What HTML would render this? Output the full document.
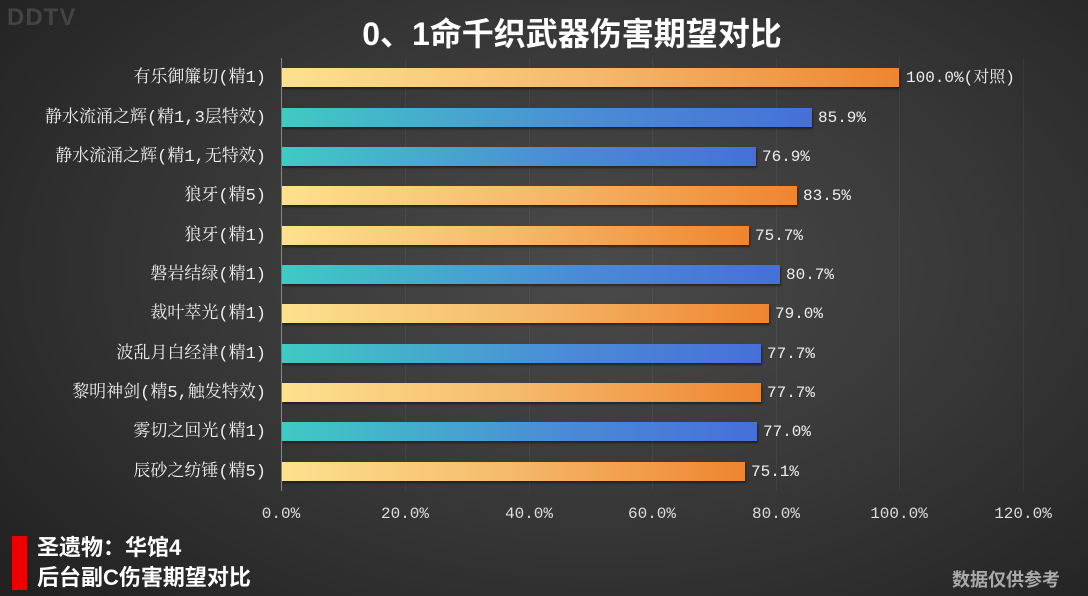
<!DOCTYPE html>
<html><head><meta charset="utf-8"><style>
body{margin:0;width:1088px;height:596px;overflow:hidden;background:radial-gradient(ellipse 70% 80% at 55% 45%,#4a4a4a 0%,#383838 50%,#222 100%);position:relative;font-family:"Liberation Mono","Noto Serif CJK SC",serif;color:#fff}
.a{position:absolute}
.lab{position:absolute;right:822px;font-size:17px;color:#eee;white-space:nowrap;line-height:20px;margin-top:2px}
.bar{position:absolute;left:282px;height:19px;box-shadow:1px 2px 2px rgba(0,0,0,.45)}
.o{background:linear-gradient(90deg,#fde18e,#f5b96b 50%,#ee8530)}
.b{background:linear-gradient(90deg,#3fcac4,#4b8ad6 60%,#4670d8)}
.val{position:absolute;font-size:16px;color:#eee;line-height:20px;white-space:nowrap;margin-top:1px}
.grid{position:absolute;top:58px;height:433px;width:1px;background:rgba(255,255,255,.05)}
.tick{position:absolute;top:505px;font-size:16px;color:#ddd;width:100px;margin-left:-50px;text-align:center}
.sans{font-family:"Liberation Sans","Noto Sans CJK SC",sans-serif;font-weight:bold}
</style></head><body>
<div class="a sans" style="left:7px;top:4px;font-size:24px;color:#444;letter-spacing:1px">DDTV</div>
<div class="a sans" style="left:0;width:1088px;top:9px;text-align:center;font-size:32px;color:#fff;padding-left:56px;box-sizing:border-box">0、1命千织武器伤害期望对比</div>
<div class="grid" style="left:405px"></div><div class="grid" style="left:529px"></div><div class="grid" style="left:652px"></div><div class="grid" style="left:776px"></div><div class="grid" style="left:899px"></div><div class="grid" style="left:1023px"></div>
<div class="a" style="left:281px;top:58px;width:1px;height:433px;background:#888"></div>

<div class="lab" style="top:67px">有乐御簾切(精1)</div><div class="bar o" style="top:68px;width:617px"></div><div class="val" style="left:906px;top:67px">100.0%(对照)</div>
<div class="lab" style="top:107px">静水流涌之辉(精1,3层特效)</div><div class="bar b" style="top:108px;width:530px"></div><div class="val" style="left:818px;top:107px">85.9%</div>
<div class="lab" style="top:146px">静水流涌之辉(精1,无特效)</div><div class="bar b" style="top:147px;width:474px"></div><div class="val" style="left:762px;top:146px">76.9%</div>
<div class="lab" style="top:185px">狼牙(精5)</div><div class="bar o" style="top:186px;width:515px"></div><div class="val" style="left:803px;top:185px">83.5%</div>
<div class="lab" style="top:225px">狼牙(精1)</div><div class="bar o" style="top:226px;width:467px"></div><div class="val" style="left:755px;top:225px">75.7%</div>
<div class="lab" style="top:264px">磐岩结绿(精1)</div><div class="bar b" style="top:265px;width:498px"></div><div class="val" style="left:786px;top:264px">80.7%</div>
<div class="lab" style="top:303px">裁叶萃光(精1)</div><div class="bar o" style="top:304px;width:487px"></div><div class="val" style="left:775px;top:303px">79.0%</div>
<div class="lab" style="top:343px">波乱月白经津(精1)</div><div class="bar b" style="top:344px;width:479px"></div><div class="val" style="left:767px;top:343px">77.7%</div>
<div class="lab" style="top:382px">黎明神剑(精5,触发特效)</div><div class="bar o" style="top:383px;width:479px"></div><div class="val" style="left:767px;top:382px">77.7%</div>
<div class="lab" style="top:421px">雾切之回光(精1)</div><div class="bar b" style="top:422px;width:475px"></div><div class="val" style="left:763px;top:421px">77.0%</div>
<div class="lab" style="top:461px">辰砂之纺锤(精5)</div><div class="bar o" style="top:462px;width:463px"></div><div class="val" style="left:751px;top:461px">75.1%</div>

<div class="tick" style="left:281px">0.0%</div><div class="tick" style="left:405px">20.0%</div><div class="tick" style="left:529px">40.0%</div><div class="tick" style="left:652px">60.0%</div><div class="tick" style="left:776px">80.0%</div><div class="tick" style="left:899px">100.0%</div><div class="tick" style="left:1023px">120.0%</div>

<div class="a" style="left:12px;top:536px;width:15px;height:54px;background:#e00"></div>
<div class="a sans" style="left:37px;top:533px;font-size:22px;line-height:30px;color:#fff">圣遗物：华馆4<br>后台副C伤害期望对比</div>
<div class="a sans" style="left:952px;top:566px;font-size:18px;color:#aaa">数据仅供参考</div>
</body></html>
